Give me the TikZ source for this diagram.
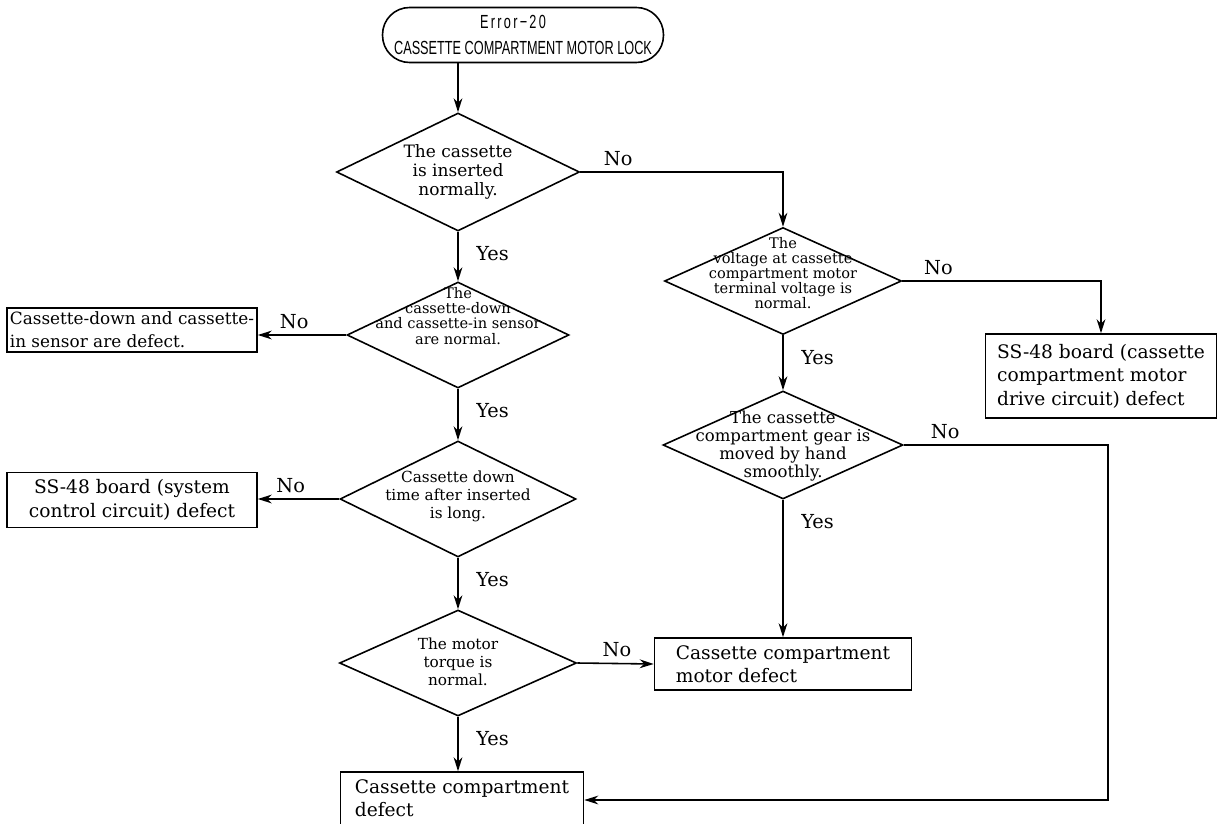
\documentclass[tikz,border=0pt]{standalone}
\usepackage{fontspec}
\setmainfont{DejaVu Serif}
\newfontfamily\titlefont{Liberation Sans}[FakeStretch=0.67]
\usetikzlibrary{arrows.meta,shapes.geometric,positioning,calc}

\tikzset{
  term/.style={draw, rectangle, rounded corners=0.54cm, line width=0.9pt,
    minimum width=5.62cm, minimum height=1.1cm, inner sep=0pt, align=center,
    font=\titlefont\fontsize{10.8}{15}\selectfont},
  dia/.style 2 args={draw, diamond, line width=0.9pt, inner sep=0pt,
    minimum width=#1*0.02cm, minimum height=#2*0.02cm},
  qtext/.style={align=center, inner sep=0pt,
    font=\fontsize{8.7}{10.2}\selectfont},
  qbig/.style={align=center, inner sep=0pt,
    font=\fontsize{9.7}{10.8}\selectfont},
  qsmall/.style={align=center, inner sep=0pt,
    font=\fontsize{8.3}{8.6}\selectfont},
  outbox/.style 2 args={draw, rectangle, line width=0.9pt, inner sep=0pt,
    minimum width=#1*0.02cm, minimum height=#2*0.02cm, align=left,
    font=\fontsize{10.6}{13.4}\selectfont},
  ans/.style={inner sep=2pt, font=\fontsize{11}{12}\selectfont},
  flow/.style={line width=0.9pt, -{Stealth[length=8pt,width=5pt]}},
}

\begin{document}
\begin{tikzpicture}[x=0.02cm, y=-0.02cm]
  \useasboundingbox (0,0) rectangle (1223,824);

  % start
  \node[term] (start) at (523,35)
    {{\addfontfeatures{LetterSpace=12}Error−20}\hspace*{0.4cm}\\CASSETTE COMPARTMENT MOTOR LOCK};

  % left column of checks
  \node[dia={243}{118}] (ins) at (458,172) {};
  \node[qbig] (inst) at (458,172) {The cassette\\is inserted\\normally.};
  \node[dia={222}{106}] (sens) at (458,335) {};
  \node[qsmall] (senst) at (458,316) {The\\cassette-down\\and cassette-in sensor\\are normal.};
  \node[dia={236}{116}] (down) at (458,499) {};
  \node[qtext] (downt) at (458,496) {Cassette down\\time after inserted\\is long.};
  \node[dia={237}{106}] (torq) at (458,663) {};
  \node[qtext] (torqt) at (458,662) {The motor\\torque is\\normal.};

  % right column of checks
  \node[dia={237}{107}] (volt) at (783,281) {};
  \node[qsmall] (voltt) at (783,273) {The\\voltage at cassette\\compartment motor\\terminal voltage is\\normal.};
  \node[dia={240}{108}] (gear) at (783,445) {};
  \node[qtext, font=\fontsize{9.4}{10.2}\selectfont] (geart) at (783,446)
    {The cassette\\compartment gear is\\moved by hand\\smoothly.};

  % results
  \node[outbox={250}{44}, font=\fontsize{9.6}{13}\selectfont] (sensdef) at (132,330)
    {Cassette-down and cassette-\\in sensor are defect.};
  \node[outbox={250}{55}, align=center] (sysdef) at (132,500) {SS-48 board (system\\control circuit) defect};
  \node[outbox={231}{84}] (drvdef) at (1101,376) {SS-48 board (cassette\\compartment motor\\drive circuit) defect};
  \node[outbox={257}{52}] (motdef) at (783,664) {Cassette compartment\\motor defect};
  \node[outbox={243}{56}] (cmpdef) at (462,800) {Cassette compartment\\defect\vphantom{p}\hspace{3cm}};
  \coordinate (bend) at (1108,800);

  % connectors
  \draw[flow] (ins |- start.south) -- (ins.north);
  \draw[flow] (ins.east) node[ans, above right=1pt and 11pt] (no1) {No}
    -- (ins.east -| volt.north) -- (volt.north);
  \draw[flow] (ins.south) node[ans, below right=6pt and 8pt] (yes1) {Yes} -- (sens.north);
  \draw[flow] (sens.west) node[ans, above left=1pt and 19pt] (no2) {No} -- (sens.west -| sensdef.east);
  \draw[flow] (sens.south) node[ans, below right=6pt and 8pt] (yes2) {Yes} -- (down.north);
  \draw[flow] (down.west) node[ans, above left=1pt and 17pt] (no3) {No} -- (down.west -| sysdef.east);
  \draw[flow] (down.south) node[ans, below right=6pt and 8pt] (yes3) {Yes} -- (torq.north);
  \draw[flow] (torq.east) node[ans, above right=1pt and 12pt] (no4) {No} -- (motdef.west);
  \draw[flow] (torq.south) node[ans, below right=6pt and 8pt] (yes4) {Yes} -- (torq.south |- cmpdef.north);
  \draw[flow] (volt.east) node[ans, above right=1pt and 10pt] (no5) {No}
    -- (volt.east -| drvdef.north) -- (drvdef.north);
  \draw[flow] (volt.south) node[ans, below right=6pt and 8pt] (yes5) {Yes} -- (gear.north);
  \draw[flow] (gear.south) node[ans, below right=6pt and 8pt] (yes6) {Yes} -- (motdef.north);
  \draw[flow] (gear.east) node[ans, above right=1pt and 13pt] (no6) {No}
    -- (gear.east -| bend) -- (bend) -- (cmpdef.east);
\end{tikzpicture}
\end{document}
